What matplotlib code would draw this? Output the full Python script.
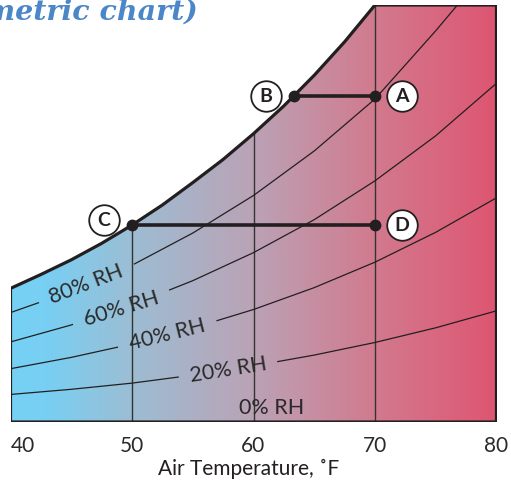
import numpy as np
import matplotlib
matplotlib.use('Agg')
import matplotlib.pyplot as plt
from matplotlib.colors import LinearSegmentedColormap
from matplotlib.patches import Polygon
from matplotlib.transforms import offset_copy

# Data (humidity ratio, lb water / lb dry air)
temps = [40, 45, 50, 55, 60, 65, 70, 75, 80]
sat_t = [40, 42.5, 45, 47.5, 50, 52.5, 55, 57.5, 60, 62.5, 65, 67.5, 70]
sat = [0.00519, 0.00573, 0.0063, 0.00694, 0.00765, 0.00843, 0.0093, 0.01020,
       0.0112, 0.01228, 0.01347, 0.01477, 0.0162]
rh80 = [0.00425, 0.00508, 0.00609, 0.00734, 0.00880, 0.01053, 0.01255, 0.0152, 0.0180]
rh60 = [0.00311, 0.00377, 0.00455, 0.00549, 0.00658, 0.00786, 0.00937, 0.01112, 0.01316]
rh40 = [0.00207, 0.00251, 0.00303, 0.00365, 0.00437, 0.00522, 0.00621, 0.00737, 0.00871]
rh20 = [0.00107, 0.00127, 0.00151, 0.00182, 0.00218, 0.00260, 0.00309, 0.00366, 0.00432]
rh_labels = ['80% RH', '60% RH', '40% RH', '20% RH']
w_top = 0.0162

# state points
pts = {'A': (70, 0.01265), 'B': (63.3, 0.01265), 'C': (50, 0.00765), 'D': (70, 0.00765)}
xticks = [40, 50, 60, 70, 80]

ink = '#231f20'

fig = plt.figure(figsize=(5.11, 4.84), dpi=100)
ax = fig.add_axes([10.5 / 511, 62 / 484, 486 / 511, 417 / 484])
ax.set_xlim(40, 80)
ax.set_ylim(0, w_top)

# chart outline: saturation curve, flat top, right edge, bottom
outline = list(zip(sat_t, sat)) + [(80, w_top), (80, 0), (40, 0)]
poly = Polygon(outline, closed=True, fc='none', ec=ink, lw=2.3, joinstyle='miter', zorder=5)
ax.add_patch(poly)

cmap = LinearSegmentedColormap.from_list('psy', [
    (0.0, '#76d1f5'), (0.07, '#78cff3'), (0.25, '#9dbdd3'), (0.5, '#bba2b5'),
    (0.75, '#d27a8e'), (1.0, '#de5672')])
img = ax.imshow(np.linspace(0, 1, 400).reshape(1, -1), cmap=cmap, aspect='auto',
                extent=[40, 80, 0, w_top], origin='lower', zorder=0)
img.set_clip_path(poly)

# vertical temperature lines
vl = ax.vlines([50, 60, 70], 0, w_top, colors='#333333', lw=1.0, zorder=2)
vl.set_clip_path(poly)

# RH lines, broken where the label sits
gaps = [(42.3, 50.2), (45.1, 53.1), (48.8, 57.0), (53.8, 62.0)]
rots = [21, 17, 14, 9]
t_arr = np.array(temps, dtype=float)
for vals, lab, (a, b), rot in zip([rh80, rh60, rh40, rh20], rh_labels, gaps, rots):
    v = np.array(vals)
    m1 = t_arr < a
    x1 = np.append(t_arr[m1], a)
    y1 = np.append(v[m1], np.interp(a, t_arr, v))
    m2 = t_arr > b
    x2 = np.insert(t_arr[m2], 0, b)
    y2 = np.insert(v[m2], 0, np.interp(b, t_arr, v))
    for xs, ys in ((x1, y1), (x2, y2)):
        ln, = ax.plot(xs, ys, color=ink, lw=0.9, zorder=3)
        ln.set_clip_path(poly)
    c = (a + b) / 2
    ax.text(c, np.interp(c, t_arr, v), lab, rotation=rot, rotation_mode='anchor',
            ha='center', va='center', fontsize=15.5, family='Lato', color='#2a2a2a', zorder=4)
ax.text(61.5, 0.00055, '0% RH', ha='center', va='center', fontsize=15.5,
        family='Lato', color='#2a2a2a', zorder=4)

# process lines A-B and C-D
ax.plot([pts['B'][0], pts['A'][0]], [pts['B'][1], pts['A'][1]], color=ink, lw=2.6, zorder=6)
ax.plot([pts['C'][0], pts['D'][0]], [pts['C'][1], pts['D'][1]], color=ink, lw=2.6, zorder=6)
for k, (x, y) in pts.items():
    ax.plot(x, y, 'o', color=ink, ms=7.5, zorder=7)
    dx = 27 if k in 'AD' else -28
    dy = 0 if k != 'C' else 5
    tr = offset_copy(ax.transData, fig=fig, x=dx, y=dy, units='dots')
    ax.plot(x, y, 'o', transform=tr, ms=22, mfc='white', mec=ink, mew=1.3, zorder=8)
    ax.text(x, y, k, transform=tr, ha='center', va='center', fontsize=14,
            fontweight='bold', family='Lato', color=ink, zorder=9)

for s in ax.spines.values():
    s.set_visible(False)
ax.set_yticks([])
ax.set_xticks(xticks)
ax.set_xticklabels([str(t) for t in xticks], fontsize=15, family='Lato', color='#2a2a2a')
ax.get_xticklabels()[0].set_ha('left')
ax.tick_params(axis='x', length=0, pad=10)
fig.text(249 / 511, 1 - 469 / 484, 'Air Temperature, \u02daF', ha='center', va='center',
         fontsize=15, family='Lato', color=ink)

fig.text(198 / 511, 1 - 20 / 484, '(psychrometric chart)', ha='right', va='baseline',
         fontsize=20.5, family='DejaVu Serif', style='italic', fontweight='bold', color='#4a86c8')

fig.savefig('out.png', dpi=100)
